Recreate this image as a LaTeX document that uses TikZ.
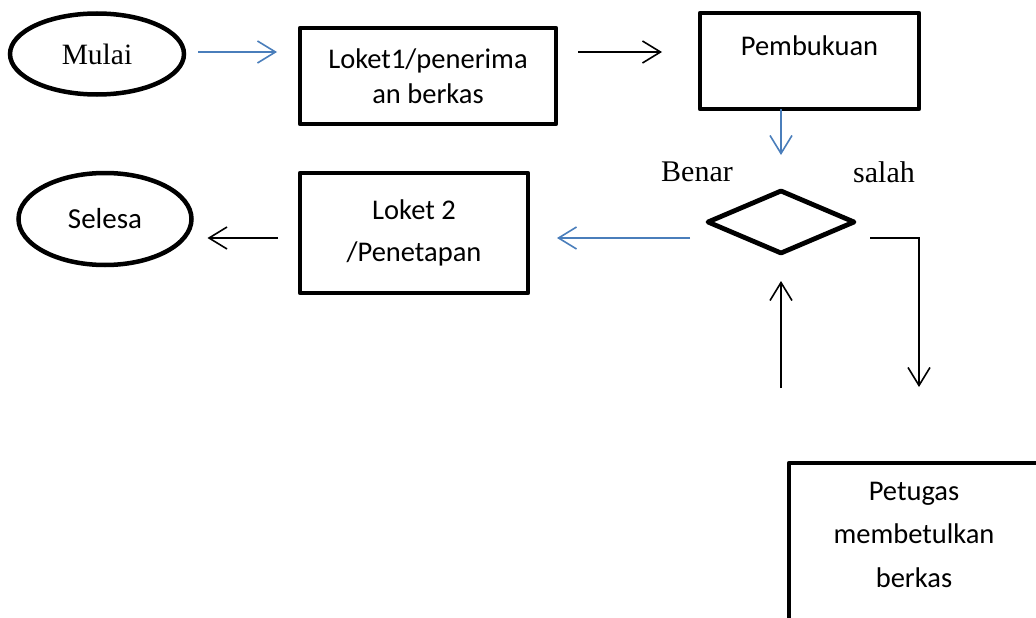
\documentclass[tikz,border=0pt]{standalone}
\usepackage{fontspec}
\setmainfont{Liberation Serif}
\newfontfamily\calibrifont{Carlito}
\usetikzlibrary{shapes.geometric,arrows.meta}
\definecolor{alurblue}{RGB}{74,126,187}

\begin{document}
\begin{tikzpicture}[x=1pt, y=-1pt,
    kotak/.style={draw, line width=4.8pt, line join=round, rectangle, align=center,
        inner sep=0pt, outer sep=0pt, font=\calibrifont\fontsize{28.5}{35}\selectfont},
    oval/.style={draw, line width=4.5pt, ellipse, inner sep=0pt, outer sep=0pt},
    alur/.style={line width=1.6pt, -{Straight Barb[length=18pt,width=22pt]}},
    alurbiru/.style={alur, alurblue}]

    \useasboundingbox (0,0) rectangle (1036,618);
    \clip (0,0) rectangle (1036,618);

    % start and end
    \node[oval, minimum width=174pt, minimum height=81pt, font=\fontsize{29.5}{36}\selectfont] (mulai) at (97,54) {Mulai};
    \node[oval, minimum width=173pt, minimum height=92pt, font=\calibrifont\fontsize{29}{35}\selectfont] (selesa) at (105,219) {Selesa};

    % process boxes
    \node[kotak, minimum width=256pt, minimum height=96pt] (loket1) at (428,76) {Loket1/penerima\\an berkas};
    \node[kotak, minimum width=219pt, minimum height=96pt, font=\calibrifont\fontsize{28.5}{31}\selectfont] (pembukuan) at (809.5,61) {Pembukuan\\\mbox{}};
    \node[kotak, minimum width=228pt, minimum height=120pt, font=\calibrifont\fontsize{28.5}{42}\selectfont] (loket2) at (414,233) {Loket 2\\/Penetapan};
    \node[kotak, anchor=north, minimum width=250pt, inner ysep=19pt, text depth=40pt,
        font=\calibrifont\fontsize{28.5}{43.5}\selectfont] (petugas) at (914,463) {Petugas\\membetulkan\\berkas};

    % decision
    \node[draw, diamond, line width=4.8pt, line join=round, inner sep=0pt, outer sep=0pt,
        minimum width=146pt, minimum height=62pt] (cek) at (781,222) {};
    \node[font=\fontsize{30}{36}\selectfont] (benar) at (697,172) {Benar};
    \node[font=\fontsize{30}{36}\selectfont] (salah) at (884,172) {salah};

    % arrows
    \draw[alurbiru, shorten <=14pt, shorten >=23pt] ([yshift=2pt]mulai.east) -- ([yshift=2pt]mulai.east -| loket1.west);
    \draw[alur, shorten <=22pt, shorten >=38pt] ([yshift=24pt]loket1.east) -- ([yshift=24pt]loket1.east -| pembukuan.west);
    \draw[alurbiru, shorten >=36pt] (pembukuan.south -| cek.north) -- (cek.north);
    \draw[alurbiru, shorten <=18pt, shorten >=29pt] ([yshift=-16pt]cek.west) -- ([yshift=-16pt]cek.west -| loket2.east);
    \draw[alur, shorten <=22pt, shorten >=16pt] ([yshift=-5pt]loket2.west) -- ([yshift=-5pt]loket2.west -| selesa.east);
    \draw[alur, shorten <=16pt, shorten >=76pt] ([yshift=-16pt]cek.east) -| ([xshift=5pt]petugas.north);
    \draw[alur, shorten <=75pt, shorten >=28pt] (cek.south |- petugas.north) -- (cek.south);
\end{tikzpicture}
\end{document}
